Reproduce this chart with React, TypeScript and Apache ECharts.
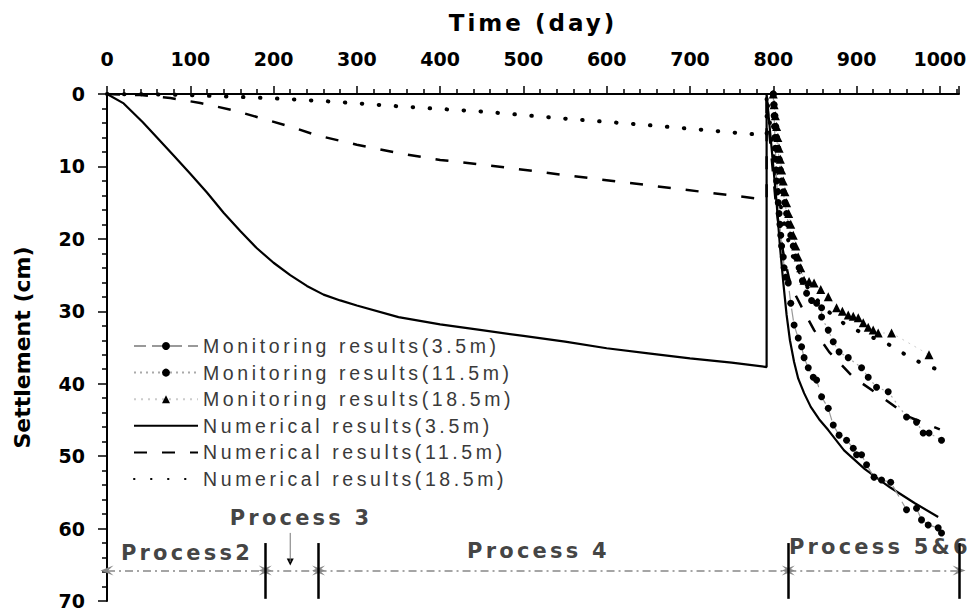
import React, { useEffect, useRef } from 'react';
import * as echarts from 'echarts';

// ---- data (time in days, settlement in cm) ----
const num35: [number, number][] = [[0,0],[20,1.3],[43,3.9],[60,6.0],[80,8.5],[100,11],[120,13.6],[140,16.4],[160,18.9],[180,21.3],[200,23.3],[220,25],[240,26.5],[260,27.7],[280,28.5],[300,29.2],[350,30.8],[400,31.8],[450,32.6],[500,33.4],[550,34.2],[600,35.1],[650,35.8],[700,36.5],[750,37.1],[792,37.7],[792,0],[796,5],[800,10],[804,15],[808,21],[812,26],[816,30.5],[820,34],[825,37],[830,39.3],[837,41.3],[845,43.2],[855,44.9],[866,46.4],[885,49.2],[910,51.8],[940,54.3],[970,56.5],[998,58.4]];
const num115: [number, number][] = [[0,0],[40,0.15],[76,0.55],[112,1.24],[150,2.2],[184,3.3],[220,4.5],[252,5.7],[300,7.0],[352,8.2],[400,9.1],[469,10.0],[550,11.2],[650,12.6],[750,14.0],[792,14.6],[792,0],[795,5],[799,10],[803,15],[808,19.5],[813,22.5],[819,25.5],[826,27.6],[834,29.4],[849,32.6],[867,35.6],[896,39.1],[930,41.8],[963,44.6],[1000,46.3]];
const num185: [number, number][] = [[0,0],[80,0.08],[151,0.37],[200,0.6],[272,1.06],[350,1.7],[452,2.44],[550,3.4],[650,4.3],[750,5.3],[792,5.7],[792,0],[797,5],[802,10],[808,15],[815,19],[825,23],[840,26.5],[860,29.5],[885,31.7],[910,33.2],[936,34.4],[956,35.8],[975,37],[998,38.1]];
const mon35: [number, number][] = [[800,0],[800.5,1.5],[801,3],[801.5,4.5],[802,6],[802.5,7.5],[803,9],[803.5,10.5],[804,12],[805,13.5],[806,15],[807,16.5],[808,18],[809,19.5],[810,21],[812,22.5],[813,24],[815,25.3],[818,26.1],[821,28.9],[825,31.9],[830,33.7],[834,34.9],[837,36.4],[842,37.8],[848,39.1],[852,39.5],[858,41.8],[866,43.4],[872,45.7],[879,47.1],[888,47.8],[896,48.9],[900,49.8],[906,49.8],[912,51.2],[921,52.9],[930,53.3],[941,53.6],[960,57.4],[972,57.2],[978,58.8],[986,59.5],[998,59.9],[1002,60.6]];
const mon115: [number, number][] = [[800,0],[801,1.5],[802,3],[803,4.5],[804,6],[805.5,7.5],[807,9],[808.5,10.5],[810,12],[812,13.5],[814,15],[816,16.5],[818,18],[821,19.5],[824,21],[827,22.5],[831,24],[835,25.8],[840,27.5],[846,28.5],[852,28.9],[858,29.5],[858,30.8],[866,32.6],[872,34.2],[879,35.6],[890,36.4],[906,37.8],[914,39.1],[924,40.5],[938,41.1],[960,44.6],[972,45.3],[980,46.8],[987,46.8],[1002,47.8]];
const mon185: [number, number][] = [[800,0],[801,1.5],[802.5,3],[804,4.5],[805.5,6],[807,7.5],[808.5,9],[810,10.5],[812,12],[814,13.5],[816,15],[818.5,16.5],[821,18],[824,19.5],[827,21],[830,22.5],[833,24],[837,25.7],[843,25.9],[849,26.1],[857,27],[866,28],[876,29.5],[883,30],[890,30.5],[896,30.7],[902,30.9],[908,31.6],[914,32.2],[920,32.6],[926,33.0],[942,33.0],[987,36.0]];

const seriesNames = [
  'Monitoring results(3.5m)',
  'Monitoring results(11.5m)',
  'Monitoring results(18.5m)',
  'Numerical results(3.5m)',
  'Numerical results(11.5m)',
  'Numerical results(18.5m)',
];

// process annotation (days)
const processBounds = [0, 190, 254, 818, 1023];
const processArrowLevel = 65.8;
const processBarRange = [62, 69.7];
const processNames = ['Process2', 'Process 3', 'Process 4', 'Process 5&6'];
const processLabelAt: [number, number][] = [[96, 63.4], [233, 58.6], [518, 63.1], [928, 62.6]];
const process3Pointer: [number, number][] = [[220, 60.6], [220, 64.6]];

const xTickMax = 1000;

const arrowPath = 'path://M5,0 L10,12 L5,7 L0,12 Z';

const css = `
text[style*="19.5px"] { letter-spacing: 3.6px; }
text[style*="21px"] { letter-spacing: 3.2px; }
text[style*="23px"] { letter-spacing: 3px; }
`;

export default function App() {
  const ref = useRef<HTMLDivElement>(null);
  useEffect(() => {
    document.body.style.margin = '0';
    const chart = echarts.init(ref.current!, null, { renderer: 'svg' });
    const tickFont = { fontFamily: '"DejaVu Sans"', fontWeight: 'bold' as const, fontSize: 19, color: '#000' };
    const option: any = {
      animation: false,
      grid: { left: 107, right: 12, top: 94, bottom: 12, containLabel: false },
      xAxis: {
        type: 'value', position: 'top', min: 0, max: 1023, interval: 100,
        name: 'Time (day)', nameLocation: 'middle', nameGap: 60,
        nameTextStyle: { fontFamily: '"DejaVu Sans"', fontWeight: 'bold', fontSize: 23, color: '#000' },
        axisLine: { onZero: false, lineStyle: { color: '#000', width: 2 } },
        axisTick: { show: true, length: 8, lineStyle: { color: '#000', width: 1.5 } },
        minorTick: { show: true, splitNumber: 5, length: 5, lineStyle: { color: '#000', width: 1.5 } },
        axisLabel: { ...tickFont, margin: 26, showMaxLabel: false, formatter: (v: number) => (v % 100 === 0 && v <= xTickMax ? String(v) : '') },
        splitLine: { show: false },
      },
      yAxis: {
        type: 'value', inverse: true, min: 0, max: 70, interval: 10,
        name: 'Settlement (cm)', nameLocation: 'middle', nameGap: 74,
        nameTextStyle: { fontFamily: '"DejaVu Sans"', fontWeight: 'bold', fontSize: 22, color: '#000' },
        axisLine: { lineStyle: { color: '#000', width: 2 } },
        axisTick: { show: true, length: 9, lineStyle: { color: '#000', width: 1.5 } },
        minorTick: { show: true, splitNumber: 5, length: 5, lineStyle: { color: '#000', width: 1.5 } },
        axisLabel: { ...tickFont, margin: 22 },
        splitLine: { show: false },
      },
      legend: {
        orient: 'vertical', left: 133, top: 336, padding: 0, itemWidth: 64, itemHeight: 10, itemGap: 6.6,
        data: seriesNames.map((n, i) => (i < 3 ? { name: n } : { name: n, itemStyle: { opacity: 0 } })),
        textStyle: { fontFamily: '"Liberation Sans"', fontSize: 19.5, color: '#3a3a3a', lineHeight: 20 },
      },
      series: [
        {
          name: seriesNames[3], type: 'line', data: num35, symbol: 'none', z: 3,
          itemStyle: { color: '#000', opacity: 0 },
          lineStyle: { color: '#000', width: 2.2, type: 'solid' },
        },
        {
          name: seriesNames[4], type: 'line', data: num115, symbol: 'none', z: 3,
          itemStyle: { color: '#000', opacity: 0 },
          lineStyle: { color: '#000', width: 2.5, type: [13, 15] },
        },
        {
          name: seriesNames[5], type: 'line', data: num185, symbol: 'none', z: 3,
          itemStyle: { color: '#000', opacity: 0 },
          lineStyle: { color: '#000', width: 4, type: [0.5, 16.5], cap: 'round' },
        },
        {
          name: seriesNames[0], type: 'line', data: mon35, symbol: 'circle', symbolSize: 7, z: 4,
          itemStyle: { color: '#000' }, lineStyle: { color: '#999', width: 1.2, type: [12, 6] },
        },
        {
          name: seriesNames[1], type: 'line', data: mon115, symbol: 'circle', symbolSize: 7, z: 4,
          itemStyle: { color: '#000' }, lineStyle: { color: '#aaa', width: 1.2, type: [2, 4] },
        },
        {
          name: seriesNames[2], type: 'line', data: mon185, symbol: 'triangle', symbolSize: 9, z: 4,
          itemStyle: { color: '#000' }, lineStyle: { color: '#ccc', width: 1, type: [2, 5] },
        },
        {
          name: 'process-labels', type: 'scatter', silent: true, z: 5,
          data: processNames.map((n, i) => ({ name: n, value: processLabelAt[i] })),
          symbolSize: 1, itemStyle: { color: 'transparent' },
          label: {
            show: true, position: 'inside', formatter: '{b}',
            fontFamily: '"DejaVu Sans"', fontWeight: 'bold', fontSize: 21, color: '#111',
          },
          markLine: {
            silent: true, animation: false,
            symbol: [arrowPath, arrowPath], symbolSize: [10, 13],
            label: { show: false },
            lineStyle: { color: '#888', width: 1.5, type: [8, 4, 2, 4] },
            data: processBounds.slice(0, -1).map((b, i) => [
              { coord: [b, processArrowLevel] },
              { coord: [processBounds[i + 1], processArrowLevel] },
            ]),
          },
        },
        {
          name: 'process-bars', type: 'line', silent: true, z: 5,
          data: process3Pointer, symbol: 'none',
          lineStyle: { color: '#777', width: 1 },
          markPoint: {
            silent: true, animation: false,
            label: { show: false },
            data: [{ coord: process3Pointer[1], symbol: 'triangle', symbolSize: [7, 7], symbolRotate: 180, itemStyle: { color: '#000' } }],
          },
          markLine: {
            silent: true, animation: false,
            symbol: ['none', 'none'],
            label: { show: false },
            lineStyle: { color: '#000', width: 2.5, type: 'solid' },
            data: processBounds.slice(1).map((b) => [
              { coord: [b, processBarRange[0]] },
              { coord: [b, processBarRange[1]] },
            ]),
          },
        },
      ],
    };
    chart.setOption(option);
    return () => chart.dispose();
  }, []);
  return (
    <>
      <style>{css}</style>
      <div ref={ref} style={{ width: 971, height: 613, position: 'absolute', left: 0, top: 0 }} />
    </>
  );
}
